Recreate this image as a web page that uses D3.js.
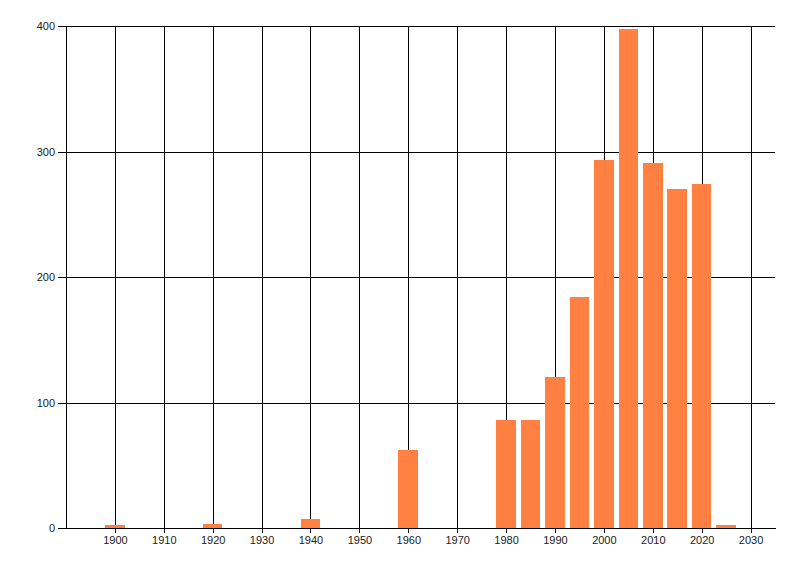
<!DOCTYPE html>
<html lang="en">
	<head>
		<meta charset="utf-8">
		<title>Bars by year</title>
		<script type="text/javascript" src="https://cdn.jsdelivr.net/npm/d3@7/dist/d3.min.js"></script>
		<style>
			body { margin: 0; background: #fff; }
			.axis text { font-family: "Liberation Sans", Arial, sans-serif; font-size: 11px; fill: #1a1a1a; }
			.axis path, .axis line { stroke: #000; shape-rendering: crispEdges; }
			.grid line { stroke: #000; shape-rendering: crispEdges; }
			.grid path { display: none; }
			rect { shape-rendering: crispEdges; }
		</style>
	</head>
	<body>
		<script type="text/javascript">

			// data
			var years  = [1900, 1920, 1940, 1960, 1980, 1985, 1990, 1995, 2000, 2005, 2010, 2015, 2020, 2025];
			var counts = [2, 3, 7, 62, 86, 86, 120, 184, 293, 398, 291, 270, 274, 2];
			var xTicks = [1900, 1910, 1920, 1930, 1940, 1950, 1960, 1970, 1980, 1990, 2000, 2010, 2020, 2030];
			var yTicks = [0, 100, 200, 300, 400];

			var margin = {top: 26, bottom: 48, left: 66, right: 25};
			var width = 800 - margin.left - margin.right;
			var height = 576 - margin.top - margin.bottom;

			var xscale = d3.scaleLinear()
							.domain([1890, 2035])
							.range([0, width]);

			var yscale = d3.scaleLinear()
							.domain([0, 400])
							.range([height, 0]);

			var svg = d3.select("body")
						.append("svg")
						.attr("width", 800)
						.attr("height", 576)
						.append("g")
						.attr("transform", "translate(" + margin.left + "," + margin.top + ")");

			// grid lines
			svg.append("g")
				.attr("class", "grid")
				.attr("transform", "translate(0," + height + ")")
				.call(d3.axisBottom(xscale).tickValues(xTicks).tickSize(-height).tickFormat(""));

			svg.append("g")
				.attr("class", "grid")
				.call(d3.axisLeft(yscale).tickValues(yTicks).tickSize(-width).tickFormat(""));

			// bars
			var rows = years.map(function(y, i){ return {year: y, value: counts[i]}; });

			svg.selectAll("rect")
				.data(rows)
				.enter()
				.append("rect")
				.attr("x", function(d){ return xscale(d.year - 2); })
				.attr("width", function(d){ return xscale(d.year + 2) - xscale(d.year - 2); })
				.attr("y", function(d){ return yscale(d.value); })
				.attr("height", function(d){ return height - yscale(d.value); })
				.style("fill", "#ff8040");

			// axes
			var xAxis = d3.axisBottom(xscale)
							.tickValues(xTicks)
							.tickSizeInner(5)
							.tickSizeOuter(0)
							.tickPadding(3)
							.tickFormat(d3.format("d"));

			var yAxis = d3.axisLeft(yscale)
							.tickValues(yTicks)
							.tickSizeInner(8)
							.tickSizeOuter(0)
							.tickPadding(3);

			svg.append("g")
				.attr("class", "axis")
				.attr("transform", "translate(0," + height + ")")
				.call(xAxis);

			svg.append("g")
				.attr("class", "axis")
				.call(yAxis);

		</script>
	</body>
</html>
